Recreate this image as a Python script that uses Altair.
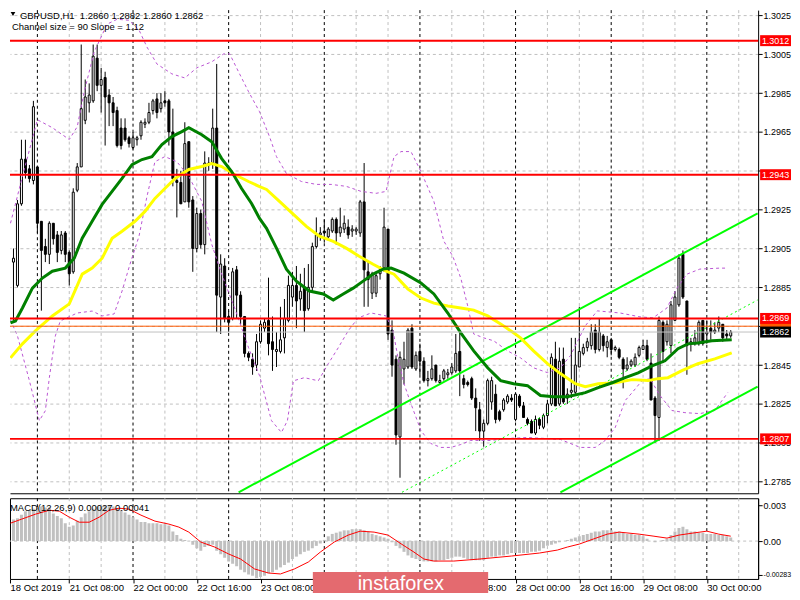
import json
import altair as alt
import pandas as pd

FONT = "Liberation Sans"
FS = 9.5

# ---------------- hourly candles, bar 0 = 18 Oct 2019 16:00 ----------------
OPEN = [1.2892, 1.2886, 1.2898, 1.2886, 1.2928, 1.2951, 1.2946, 1.2940, 1.2947, 1.2919,
        1.2906, 1.2902, 1.2918, 1.2912, 1.2904, 1.2913, 1.2903, 1.2893, 1.2935, 1.2947,
        1.2971, 1.2980, 1.2981, 1.3003, 1.2989, 1.2993, 1.2984, 1.2980, 1.2976, 1.2967,
        1.2967, 1.2962, 1.2957, 1.2961, 1.2963, 1.2969, 1.2970, 1.2976, 1.2982, 1.2977,
        1.2981, 1.2981, 1.2965, 1.2940, 1.2939, 1.2929, 1.2960, 1.2930, 1.2905, 1.2923,
        1.2907, 1.2948, 1.2949, 1.2967, 1.2880, 1.2896, 1.2870, 1.2869, 1.2894, 1.2881,
        1.2870, 1.2851, 1.2848, 1.2845, 1.2857, 1.2864, 1.2868, 1.2857, 1.2852, 1.2852,
        1.2859, 1.2868, 1.2880, 1.2886, 1.2879, 1.2885, 1.2874, 1.2885, 1.2906, 1.2912,
        1.2914, 1.2911, 1.2914, 1.2920, 1.2913, 1.2915, 1.2916, 1.2914, 1.2914, 1.2913,
        1.2929, 1.2893, 1.2882, 1.2882, 1.2892, 1.2895, 1.2915, 1.2863, 1.2848, 1.2808,
        1.2843, 1.2844, 1.2864, 1.2843, 1.2852, 1.2847, 1.2837, 1.2838, 1.2845, 1.2836,
        1.2838, 1.2840, 1.2841, 1.2842, 1.2852, 1.2838, 1.2836, 1.2838, 1.2828, 1.2822,
        1.2811, 1.2815, 1.2826, 1.2830, 1.2821, 1.2822, 1.2826, 1.2828, 1.2817, 1.2829,
        1.2824, 1.2817, 1.2816, 1.2810, 1.2817, 1.2813, 1.2819, 1.2825, 1.2848, 1.2825,
        1.2848, 1.2828, 1.2831, 1.2831, 1.2844, 1.2851, 1.2854, 1.2855, 1.2863, 1.2853,
        1.2860, 1.2854, 1.2858, 1.2853, 1.2853, 1.2848, 1.2843, 1.2845, 1.2845, 1.2850,
        1.2853, 1.2855, 1.2846, 1.2828, 1.2818, 1.2867, 1.2857, 1.2855, 1.2868, 1.2876,
        1.2902, 1.2878, 1.2856, 1.2856, 1.2856, 1.2868, 1.2861, 1.2864, 1.2862, 1.2864,
        1.2866, 1.2861, 1.2860]
HIGH = [1.2895, 1.2901, 1.2905, 1.2930, 1.2961, 1.2961, 1.2948, 1.2981, 1.2947, 1.2919,
        1.2910, 1.2919, 1.2918, 1.2914, 1.2914, 1.2914, 1.2904, 1.2936, 1.2949, 1.3010,
        1.2992, 1.2990, 1.3010, 1.3010, 1.2998, 1.2996, 1.2987, 1.2983, 1.2978, 1.2972,
        1.2972, 1.2963, 1.2965, 1.2963, 1.2971, 1.2972, 1.2980, 1.2982, 1.2985, 1.2985,
        1.2986, 1.2982, 1.2977, 1.2946, 1.2945, 1.2970, 1.2960, 1.2932, 1.2926, 1.2925,
        1.2955, 1.2952, 1.2977, 1.3000, 1.2902, 1.2900, 1.2873, 1.2895, 1.2896, 1.2883,
        1.2870, 1.2852, 1.2851, 1.2861, 1.2868, 1.2869, 1.2890, 1.2870, 1.2862, 1.2875,
        1.2879, 1.2891, 1.2893, 1.2896, 1.2892, 1.2895, 1.2897, 1.2908, 1.2921, 1.2916,
        1.2920, 1.2916, 1.2921, 1.2921, 1.2926, 1.2922, 1.2920, 1.2917, 1.2916, 1.2930,
        1.2949, 1.2898, 1.2893, 1.2893, 1.2896, 1.2926, 1.2915, 1.2868, 1.2850, 1.2852,
        1.2857, 1.2864, 1.2866, 1.2852, 1.2856, 1.2849, 1.2842, 1.2850, 1.2845, 1.2840,
        1.2843, 1.2843, 1.2846, 1.2861, 1.2862, 1.2840, 1.2837, 1.2839, 1.2833, 1.2826,
        1.2817, 1.2838, 1.2839, 1.2835, 1.2822, 1.2828, 1.2830, 1.2830, 1.2831, 1.2830,
        1.2826, 1.2818, 1.2817, 1.2819, 1.2818, 1.2820, 1.2827, 1.2851, 1.2857, 1.2854,
        1.2854, 1.2833, 1.2859, 1.2859, 1.2875, 1.2856, 1.2859, 1.2866, 1.2866, 1.2869,
        1.2861, 1.2860, 1.2859, 1.2855, 1.2854, 1.2849, 1.2849, 1.2848, 1.2851, 1.2855,
        1.2858, 1.2858, 1.2851, 1.2829, 1.2870, 1.2868, 1.2868, 1.2878, 1.2883, 1.2902,
        1.2904, 1.2878, 1.2859, 1.2863, 1.2868, 1.2868, 1.2868, 1.2868, 1.2867, 1.2870,
        1.2866, 1.2863, 1.2863]
LOW = [1.2859, 1.2884, 1.2868, 1.2885, 1.2927, 1.2941, 1.2939, 1.2938, 1.2913, 1.2873,
       1.2898, 1.2897, 1.2907, 1.2898, 1.2902, 1.2898, 1.2886, 1.2892, 1.2934, 1.2947,
       1.2969, 1.2975, 1.2980, 1.2986, 1.2975, 1.2958, 1.2968, 1.2968, 1.2957, 1.2956,
       1.2960, 1.2957, 1.2956, 1.2958, 1.2961, 1.2967, 1.2969, 1.2974, 1.2972, 1.2975,
       1.2978, 1.2958, 1.2937, 1.2921, 1.2928, 1.2929, 1.2926, 1.2893, 1.2903, 1.2905,
       1.2902, 1.2945, 1.2946, 1.2862, 1.2861, 1.2867, 1.2862, 1.2868, 1.2869, 1.2866,
       1.2849, 1.2847, 1.2840, 1.2842, 1.2856, 1.2862, 1.2850, 1.2842, 1.2844, 1.2851,
       1.2851, 1.2867, 1.2875, 1.2864, 1.2873, 1.2862, 1.2873, 1.2883, 1.2905, 1.2909,
       1.2908, 1.2909, 1.2913, 1.2907, 1.2911, 1.2913, 1.2910, 1.2911, 1.2912, 1.2911,
       1.2875, 1.2875, 1.2879, 1.2880, 1.2889, 1.2893, 1.2858, 1.2839, 1.2804, 1.2787,
       1.2835, 1.2843, 1.2843, 1.2842, 1.2840, 1.2836, 1.2834, 1.2837, 1.2836, 1.2835,
       1.2837, 1.2838, 1.2840, 1.2841, 1.2829, 1.2833, 1.2834, 1.2827, 1.2811, 1.2806,
       1.2803, 1.2814, 1.2822, 1.2815, 1.2816, 1.2821, 1.2825, 1.2826, 1.2816, 1.2823,
       1.2818, 1.2814, 1.2810, 1.2809, 1.2812, 1.2812, 1.2815, 1.2824, 1.2824, 1.2824,
       1.2825, 1.2825, 1.2828, 1.2830, 1.2844, 1.2850, 1.2852, 1.2853, 1.2851, 1.2852,
       1.2852, 1.2849, 1.2850, 1.2852, 1.2848, 1.2833, 1.2842, 1.2844, 1.2844, 1.2849,
       1.2853, 1.2847, 1.2827, 1.2805, 1.2806, 1.2846, 1.2855, 1.2851, 1.2868, 1.2875,
       1.2879, 1.2840, 1.2852, 1.2855, 1.2855, 1.2855, 1.2856, 1.2858, 1.2861, 1.2862,
       1.2857, 1.2858, 1.2859]
CLOSE = [1.2864, 1.2898, 1.2900, 1.2928, 1.2951, 1.2944, 1.2941, 1.2978, 1.2918, 1.2904,
         1.2902, 1.2918, 1.2910, 1.2903, 1.2912, 1.2902, 1.2892, 1.2934, 1.2947, 1.2977,
         1.2983, 1.2984, 1.3004, 1.2989, 1.2992, 1.2983, 1.2980, 1.2975, 1.2958, 1.2958,
         1.2961, 1.2959, 1.2962, 1.2962, 1.2970, 1.2970, 1.2975, 1.2981, 1.2975, 1.2980,
         1.2980, 1.2965, 1.2941, 1.2939, 1.2928, 1.2959, 1.2929, 1.2905, 1.2923, 1.2907,
         1.2949, 1.2949, 1.2967, 1.2881, 1.2897, 1.2869, 1.2867, 1.2893, 1.2881, 1.2870,
         1.2851, 1.2849, 1.2844, 1.2857, 1.2866, 1.2867, 1.2856, 1.2853, 1.2853, 1.2858,
         1.2869, 1.2886, 1.2886, 1.2878, 1.2883, 1.2873, 1.2885, 1.2906, 1.2912, 1.2913,
         1.2913, 1.2915, 1.2920, 1.2913, 1.2916, 1.2918, 1.2912, 1.2915, 1.2915, 1.2929,
         1.2894, 1.2889, 1.2892, 1.2891, 1.2894, 1.2916, 1.2861, 1.2845, 1.2809, 1.2849,
         1.2848, 1.2863, 1.2844, 1.2850, 1.2847, 1.2837, 1.2838, 1.2843, 1.2837, 1.2837,
         1.2842, 1.2841, 1.2844, 1.2851, 1.2842, 1.2835, 1.2835, 1.2828, 1.2823, 1.2811,
         1.2815, 1.2837, 1.2837, 1.2817, 1.2817, 1.2827, 1.2829, 1.2827, 1.2830, 1.2824,
         1.2818, 1.2815, 1.2810, 1.2817, 1.2814, 1.2819, 1.2825, 1.2849, 1.2824, 1.2847,
         1.2826, 1.2830, 1.2832, 1.2845, 1.2852, 1.2854, 1.2857, 1.2862, 1.2853, 1.2862,
         1.2855, 1.2857, 1.2853, 1.2854, 1.2849, 1.2843, 1.2845, 1.2847, 1.2849, 1.2854,
         1.2855, 1.2848, 1.2827, 1.2819, 1.2868, 1.2852, 1.2866, 1.2876, 1.2880, 1.2900,
         1.2880, 1.2855, 1.2857, 1.2859, 1.2867, 1.2856, 1.2862, 1.2862, 1.2863, 1.2867,
         1.2859, 1.2860, 1.2862]

# ---------------- indicators (bar index, value) ----------------
GREEN_MA_BARS = [1.25, 2.5, 4.25, 6.75, 9.25, 11.75, 15, 17.25, 19.25, 21.75, 24.25, 26.75, 29.25,
                 31.75, 34.25, 36.75, 39.25, 41.75, 44.25, 46, 49.25, 51.75, 54.25, 56.75, 59.25,
                 61.75, 63.75, 65.5, 68, 70.5, 73, 76.25, 79.75, 82.25, 84.75, 87.25, 89.75,
                 92.25, 94.75, 96.75, 100, 104.25, 107.5, 111, 114.25, 117.5, 121, 124.25, 127.5,
                 131, 134.25, 137.5, 141, 145.5, 148.75, 152.25, 155.5, 158.75, 162.25, 165.5,
                 168.75, 171.25, 173.75, 177.25, 182.25]
GREEN_MA = [1.28667, 1.28677, 1.28744, 1.28846, 1.28898, 1.28933, 1.28949, 1.29000, 1.29103,
            1.29190, 1.29277, 1.29344, 1.29411, 1.29482, 1.29508, 1.29523, 1.29585, 1.29626,
            1.29652, 1.29672, 1.29636, 1.29600, 1.29513, 1.29446, 1.29359, 1.29282, 1.29205,
            1.29154, 1.29052, 1.28944, 1.28882, 1.28831, 1.28816, 1.28785, 1.28816, 1.28846,
            1.28882, 1.28918, 1.28944, 1.28949, 1.28923, 1.28872, 1.28816, 1.28718, 1.28616,
            1.28523, 1.28436, 1.28370, 1.28354, 1.28344, 1.28293, 1.28287, 1.28287, 1.28308,
            1.28334, 1.28359, 1.28385, 1.28410, 1.28446, 1.28472, 1.28534, 1.28559, 1.28564,
            1.28575, 1.28580]
YELLOW_MA_BARS = [1.25, 4.25, 7.5, 11.75, 16, 19.25, 21.75, 24.25, 26.75, 29.25, 32.5, 35, 37.5, 40,
                  42.5, 46, 49.25, 51.75, 54.25, 57.5, 61, 63.75, 65.5, 68.75, 72.25, 75.5, 78.75,
                  82.25, 85.5, 88.75, 92.25, 95.5, 97.5, 101, 104.25, 107.5, 111, 114.25, 117.5,
                  121, 124.25, 127.5, 129.25, 132.5, 136, 139.25, 143, 145.5, 148.75, 153, 157.25,
                  161.25, 163.75, 166.25, 169.75, 173.75, 178, 182.25]
YELLOW_MA = [1.28487, 1.28559, 1.28626, 1.28703, 1.28765, 1.28918, 1.28949, 1.29000, 1.29103,
             1.29139, 1.29190, 1.29241, 1.29308, 1.29359, 1.29410, 1.29457, 1.29472, 1.29487,
             1.29472, 1.29431, 1.29395, 1.29369, 1.29354, 1.29293, 1.29226, 1.29164, 1.29113,
             1.29087, 1.29052, 1.29010, 1.28969, 1.28934, 1.28918, 1.28841, 1.28795, 1.28769,
             1.28754, 1.28744, 1.28733, 1.28703, 1.28662, 1.28616, 1.28590, 1.28523, 1.28457,
             1.28406, 1.28354, 1.28339, 1.28354, 1.28359, 1.28375, 1.28370, 1.28380, 1.28385,
             1.28421, 1.28457, 1.28482, 1.28513]
BAND_UP_BARS = [1.25, 4.25, 8, 11.75, 16, 18, 19.75, 22.25, 25.5, 28, 31, 33.5, 35.5, 38, 41.75, 45,
                48, 51.75, 54.75, 56.25, 58.25, 61, 63.75, 66.25, 68, 70.5, 74.25, 78, 81.75, 85.5,
                89.25, 93, 95.5, 97.5, 99.25, 101.75, 104.25, 107.5, 110, 112.25, 114.25, 116,
                117.5, 120, 122.5, 126, 129.25, 132.5, 136, 139.25, 141.75, 145.5, 148.5, 154.25,
                159.25, 162.5, 166, 168.5, 171, 174.25, 179.25, 181.25]
BAND_UP = [1.29180, 1.29421, 1.29713, 1.29672, 1.29611, 1.29677, 1.29857, 1.30062, 1.30205,
           1.30230, 1.30225, 1.30175, 1.30087, 1.30000, 1.29949, 1.29928, 1.29980, 1.30011,
           1.30052, 1.30052, 1.29969, 1.29857, 1.29754, 1.29626, 1.29523, 1.29436, 1.29395,
           1.29380, 1.29380, 1.29370, 1.29344, 1.29334, 1.29344, 1.29523, 1.29549, 1.29549,
           1.29446, 1.29293, 1.29088, 1.29010, 1.28898, 1.28754, 1.28610, 1.28590, 1.28575,
           1.28523, 1.28487, 1.28436, 1.28411, 1.28436, 1.28498, 1.28652, 1.28729, 1.28718,
           1.28698, 1.28693, 1.28744, 1.28847, 1.28918, 1.28944, 1.28949, 1.28949]
BAND_LO_BARS = [1.25, 3, 6, 8.5, 10, 11, 12.5, 13.75, 18, 21.75, 24.25, 27.25, 29.25, 31.25, 33.5,
                35.5, 37.5, 40, 43, 46, 49.25, 51.75, 54.25, 57.5, 61, 63.75, 66.75, 69.25, 70.75,
                72.25, 75, 78.5, 81, 83.5, 86, 88.5, 91.75, 95.5, 97.25, 98.5, 100, 101.75,
                104.25, 106.75, 109.25, 111.75, 114.25, 116.75, 121.75, 126, 131, 135.5, 139.25,
                144.25, 148, 150.5, 153, 155.5, 157.25, 159.75, 161.75, 164.25, 167.25, 170.5,
                174.25, 178, 181.25]
BAND_LO = [1.28682, 1.28600, 1.28369, 1.28164, 1.28215, 1.28385, 1.28600, 1.28677, 1.28718,
           1.28728, 1.28703, 1.28713, 1.28831, 1.28970, 1.29113, 1.29318, 1.29497, 1.29523,
           1.29497, 1.29421, 1.29293, 1.29072, 1.28918, 1.28744, 1.28539, 1.28395, 1.28164,
           1.28103, 1.28164, 1.28369, 1.28385, 1.28369, 1.28457, 1.28539, 1.28626, 1.28693,
           1.28718, 1.28703, 1.28626, 1.28487, 1.28354, 1.28251, 1.28113, 1.28046, 1.28026,
           1.28026, 1.28041, 1.28062, 1.28062, 1.28072, 1.28077, 1.28072, 1.28067, 1.28026,
           1.28026, 1.28062, 1.28128, 1.28267, 1.28308, 1.28370, 1.28380, 1.28293, 1.28216,
           1.28205, 1.28200, 1.28216, 1.28308]

CHANNEL_UPPER_BARS, CHANNEL_UPPER = [58.5, 188.75], [1.27795, 1.29231]
CHANNEL_MID_BARS, CHANNEL_MID = [99.5, 188.75], [1.27795, 1.28785]
CHANNEL_LOWER_BARS, CHANNEL_LOWER = [139.25, 188.75], [1.27795, 1.28339]

LEVELS = [1.3012, 1.2943, 1.2869, 1.2807]
ASK = 1.2865
BID = 1.2862

# MACD histogram in units of 0.0001, one per bar
MACD_HIST_E4 = [16, 17, 18, 19, 22, 25, 26, 27, 28, 29, 28, 28, 23, 21, 19, 15, 12, 13, 17, 20,
                23, 25, 27, 29, 29, 30, 30, 29, 27, 26, 24, 22, 20, 18, 16, 16, 15, 15, 15, 14,
                14, 13, 8, 5, 2, 1, 0, -3, -6, -8, -5, -4, -3, -8, -11, -14, -17, -19, -21, -24,
                -26, -28, -29, -31, -30, -29, -27, -26, -24, -22, -20, -18, -15, -13, -11, -9, -8,
                -6, -4, -2, 1, 4, 6, 7, 8, 9, 9, 10, 10, 10, 9, 8, 6, 5, 4, 3, 2, -1, -4, -6,
                -9, -12, -14, -15, -16, -17, -17, -17, -17, -16, -16, -15, -14, -13, -13, -14,
                -15, -16, -16, -16, -16, -14, -13, -13, -12, -12, -11, -10, -10, -10, -10, -10,
                -9, -9, -8, -6, -4, -3, -2, -1, 0, 1, 2, 3, 4, 5, 6, 7, 8, 8, 9, 9, 9, 8, 8, 7,
                6, 6, 5, 5, 4, 2, 0, -1, 0, 1, 2, 5, 8, 11, 12, 10, 8, 8, 7, 7, 6, 6, 6, 5, 5, 4, 3]
SIGNAL_BARS = [1.25, 4, 7.5, 11, 13.5, 16, 18.5, 21, 23.5, 26, 28.5, 31, 34, 37.5, 41, 43.5, 46, 49,
               52.5, 56, 59, 62.5, 66, 69, 72.5, 76, 79, 82.5, 86, 89, 92.5, 96, 99, 102.5, 105,
               107.5, 112.5, 119, 127, 134, 138.5, 141, 144, 147.5, 151, 154, 159, 162.5, 166,
               169, 172.5, 176, 179, 182]
SIGNAL_E4 = [15.0, 18.3, 22.5, 25.8, 25, 20, 15.8, 15.8, 20, 25.8, 27.5, 26.7, 21.7, 16.7, 14.2,
             11.7, 7.5, -0.8, -5, -10.8, -15, -23.3, -26.7, -27.5, -23.3, -17.5, -9.2, -0.8, 5,
             8.3, 7.5, 5, -1.7, -9.2, -15, -16.7, -16.7, -15, -12.5, -10, -7.5, -5, -2.5, 1.7,
             5.8, 7.5, 5.8, 4.2, 2.5, 5, 6.7, 8.3, 5.8, 4.1]

TIME_LABELS = ["18 Oct 2019", "21 Oct 08:00", "22 Oct 00:00", "22 Oct 16:00", "23 Oct 08:00",
               "24 Oct 00:00", "24 Oct 16:00", "25 Oct 08:00", "28 Oct 00:00", "28 Oct 16:00",
               "29 Oct 08:00", "30 Oct 00:00"]
TIME_LABEL_BARS = [0, 16, 32, 48, 64, 80, 96, 112, 128, 144, 160, 176]
LABELS_UNDER_LOGO = ["24 Oct 00:00", "24 Oct 16:00"]
DAY_START_BARS = [8, 32, 56, 80, 104, 128, 152, 176]
GRID_BARS = [16, 24, 40, 48, 64, 72, 88, 96, 112, 120, 136, 144, 160, 168, 184]
PRICE_TICKS = [1.2785, 1.2805, 1.2825, 1.2845, 1.2865, 1.2885, 1.2905, 1.2925, 1.2945,
               1.2965, 1.2985, 1.3005, 1.3025]
PRICE_TICKS_UNDER_BOXES = [1.2945, 1.2865]
MACD_TICKS = [0.003, 0.0, -0.00283]
MACD_TICK_LABELS = ["0.003", "0.00", "-0.00283"]

TITLE = "GBPUSD,H1\u00a0 1.2860 1.2882 1.2860 1.2862"
SUBTITLE = "Channel size = 90 Slope = 1.12"
MACD_TITLE = "MACD(12,26,9) 0.00027 0.00041"
WATERMARK = "instaforex"

# ---------------- scales / axes ----------------
W, H_MAIN, H_MACD = 751, 485, 81
X0 = 1.125
XS = alt.Scale(domain=[X0, X0 + W / 4], nice=False, zero=False)
YS = alt.Scale(domain=[1.2779, 1.302772], nice=False, zero=False)
YM = alt.Scale(domain=[-0.0031667, 0.0035833], nice=False, zero=False)
AXFS = 9

AX_MAIN = alt.Axis(labels=False, ticks=False, grid=False, domain=True, domainColor="black",
                   title=None)
hide_price = " || ".join("abs(datum.value - %r) < 1e-6" % v for v in PRICE_TICKS_UNDER_BOXES)
AY_MAIN = alt.Axis(orient="right", values=PRICE_TICKS,
                   labelExpr="(%s) ? '' : format(datum.value, '.4f')" % hide_price, grid=True,
                   gridDash=[3, 3], gridColor="#C0C0C0", tickColor="black", tickSize=4,
                   domainColor="black", labelColor="black", labelFont=FONT, labelFontSize=AXFS,
                   labelPadding=1, title=None)
shown_time = ["" if t in LABELS_UNDER_LOGO else t for t in TIME_LABELS]
x_vals = [X0 if b < X0 else b for b in TIME_LABEL_BARS]
AX_MACD = alt.Axis(values=x_vals, labelExpr="%s[round(datum.value / 16)]" % json.dumps(shown_time),
                   labelAlign="left", labelFlush=False, labelOverlap=False, labelBound=False,
                   grid=False, domain=False, tickColor="black", tickSize=4, labelColor="black",
                   labelFont=FONT, labelFontSize=FS, labelPadding=0, title=None)
macd_expr = " : ".join("abs(datum.value - %r) < 1e-6 ? %s" % (v, json.dumps(l))
                       for v, l in zip(MACD_TICKS, MACD_TICK_LABELS)) + " : ''"
AY_MACD = alt.Axis(orient="right", values=MACD_TICKS, labelExpr=macd_expr, grid=False,
                   tickColor="black", tickSize=4, domainColor="black", labelColor="black",
                   labelFont=FONT,
                   labelFontSize={"condition": {"test": "datum.value < 0", "value": 7},
                                  "value": AXFS},
                   labelPadding=1, title=None)


def xm(f="bar"):
    return alt.X(f"{f}:Q", scale=XS, axis=AX_MAIN)


def ym(f="price"):
    return alt.Y(f"{f}:Q", scale=YS, axis=AY_MAIN)


def xb(f="bar"):
    return alt.X(f"{f}:Q", scale=XS, axis=AX_MACD)


def yb(f="val"):
    return alt.Y(f"{f}:Q", scale=YM, axis=AY_MACD)


candles = pd.DataFrame({"bar": range(len(OPEN)), "open": OPEN, "high": HIGH,
                        "low": LOW, "close": CLOSE})
VISIBLE = "datum.bar >= 2"


def line_df(bars, vals, name):
    return pd.DataFrame({"bar": bars, "price": vals, "series": name})


grid_df = pd.DataFrame({"bar": GRID_BARS})
day_df = pd.DataFrame({"bar": DAY_START_BARS})

vgrid = alt.Chart(grid_df).mark_rule(color="#C0C0C0", strokeDash=[3, 3], strokeWidth=1).encode(x=xm())
vday = alt.Chart(day_df).mark_rule(color="black", strokeDash=[3, 3], strokeWidth=1).encode(x=xm())

wicks = alt.Chart(candles).transform_filter(VISIBLE).mark_rule(
    color="black", strokeWidth=1, clip=True).encode(x=xm(), y=ym("low"), y2=alt.Y2("high:Q"))
bodies = alt.Chart(candles).transform_filter(VISIBLE).transform_calculate(
    x1="datum.bar - 0.25", x2="datum.bar + 0.25"
).mark_rect(stroke="black", strokeWidth=1, clip=True).encode(
    x=xm("x1"), x2=alt.X2("x2:Q"), y=ym("open"), y2=alt.Y2("close:Q"),
    fill=alt.condition("datum.close >= datum.open", alt.value("white"), alt.value("black")))

bands_df = pd.concat([line_df(BAND_UP_BARS, BAND_UP, "up"), line_df(BAND_LO_BARS, BAND_LO, "lo")])
bands = alt.Chart(bands_df).mark_line(color="#BA55D3", strokeDash=[3, 3], strokeWidth=1,
                                      clip=True).encode(x=xm(), y=ym(), detail="series:N")

chan_df = pd.concat([line_df(CHANNEL_UPPER_BARS, CHANNEL_UPPER, "u"),
                     line_df(CHANNEL_LOWER_BARS, CHANNEL_LOWER, "l")])
chan = alt.Chart(chan_df).mark_line(color="#00FF00", strokeWidth=2, clip=True).encode(
    x=xm(), y=ym(), detail="series:N")
chan_mid = alt.Chart(line_df(CHANNEL_MID_BARS, CHANNEL_MID, "m")).mark_line(
    color="#00FF00", strokeWidth=1, strokeDash=[2, 3], clip=True).encode(x=xm(), y=ym())

ma_y = alt.Chart(line_df(YELLOW_MA_BARS, YELLOW_MA, "y")).mark_line(
    color="#FFFF00", strokeWidth=3, clip=True).encode(x=xm(), y=ym())
ma_g = alt.Chart(line_df(GREEN_MA_BARS, GREEN_MA, "g")).mark_line(
    color="#008000", strokeWidth=3, clip=True).encode(x=xm(), y=ym())

levels_df = pd.DataFrame({"price": LEVELS, "label": [f"{v:.4f}" for v in LEVELS]})
ask_df = pd.DataFrame({"price": [ASK], "label": [f"{ASK:.4f}"]})
bid_df = pd.DataFrame({"price": [BID], "label": [f"{BID:.4f}"]})

lev_rules = alt.Chart(levels_df).mark_rule(color="#FF0000", strokeWidth=2).encode(y=ym())
ask_rule = alt.Chart(ask_df).mark_rule(color="#FF5A00", strokeWidth=1).encode(y=ym())
bid_rule = alt.Chart(bid_df).mark_rule(color="#C0C0C0", strokeWidth=1).encode(y=ym())


def box(df, color):
    return alt.Chart(df).transform_calculate(
        lo="datum.price - 0.000282", hi="datum.price + 0.000282"
    ).mark_rect(color=color).encode(x=alt.value(W + 2), x2=alt.value(W + 33), y=ym("lo"),
                                    y2=alt.Y2("hi:Q"))


def box_text(df):
    return alt.Chart(df).mark_text(color="white", font=FONT, fontSize=AXFS, align="center",
                                   baseline="middle").encode(x=alt.value(W + 17.5), y=ym(),
                                                             text="label:N")


title_df = pd.DataFrame({"t": [TITLE]})
sub_df = pd.DataFrame({"t": [SUBTITLE]})
title_txt = alt.Chart(title_df).mark_text(align="left", baseline="alphabetic", font=FONT,
                                          fontSize=FS, color="black").encode(
    x=alt.value(10), y=alt.value(8.5), text="t:N")
sub_txt = alt.Chart(sub_df).mark_text(align="left", baseline="alphabetic", font=FONT,
                                      fontSize=FS, color="black").encode(
    x=alt.value(2), y=alt.value(19.5), text="t:N")
tri = alt.Chart(title_df).mark_point(shape="triangle-down", filled=True, size=22,
                                     color="black", opacity=1).encode(
    x=alt.value(3), y=alt.value(4))

main = alt.layer(
    vgrid, vday, wicks, bodies, bands, chan, chan_mid, ma_y, ma_g,
    lev_rules, ask_rule, bid_rule,
    box(ask_df, "#FF5A00"), box(levels_df, "#FF0000"), box(bid_df, "black"),
    box_text(levels_df), box_text(bid_df),
    title_txt, sub_txt, tri,
).properties(width=W, height=H_MAIN)

# ---------------- MACD panel ----------------
hist_df = pd.DataFrame({"bar": range(len(MACD_HIST_E4)), "e4": MACD_HIST_E4})
sig_df = pd.DataFrame({"bar": SIGNAL_BARS, "e4": SIGNAL_E4})

mgrid = alt.Chart(grid_df).mark_rule(color="#C0C0C0", strokeDash=[3, 3], strokeWidth=1).encode(x=xb())
mday = alt.Chart(day_df).mark_rule(color="black", strokeDash=[3, 3], strokeWidth=1).encode(x=xb())
zero_df = pd.DataFrame({"val": [0.0]})
mzero = alt.Chart(zero_df).mark_rule(color="#C0C0C0", strokeDash=[3, 3], strokeWidth=1).encode(y=yb())
hist = alt.Chart(hist_df).transform_filter(VISIBLE).transform_calculate(
    val="datum.e4 / 10000", zero="0", x1="datum.bar - 0.375", x2="datum.bar + 0.375"
).mark_rect(color="#C0C0C0", clip=True).encode(
    x=xb("x1"), x2=alt.X2("x2:Q"), y=yb(), y2=alt.Y2("zero:Q"))
sig = alt.Chart(sig_df).transform_calculate(val="datum.e4 / 10000").mark_line(
    color="#FF0000", strokeWidth=1, clip=True).encode(x=xb(), y=yb())
mtitle = alt.Chart(pd.DataFrame({"t": [MACD_TITLE]})).mark_text(
    align="left", baseline="alphabetic", font=FONT, fontSize=FS, color="black").encode(
    x=alt.value(0), y=alt.value(12.5), text="t:N")
wm_df = pd.DataFrame({"t": [WATERMARK]})
wm_box = alt.Chart(wm_df).mark_rect(color="#E46A6F").encode(
    x=alt.value(304), x2=alt.value(480), y=alt.value(74), y2=alt.value(95))
wm_txt = alt.Chart(wm_df).mark_text(align="left", baseline="alphabetic", font=FONT,
                                    fontSize=20, color="white").encode(
    x=alt.value(349), y=alt.value(92), text="t:N")

macd = alt.layer(mgrid, mday, mzero, hist, sig, mtitle, wm_box, wm_txt).properties(
    width=W, height=H_MACD, view=alt.ViewBackground(stroke="black", strokeWidth=1))

chart = alt.vconcat(main, macd, spacing=3).properties(padding=0).configure(
    font=FONT).configure_view(stroke="transparent")

chart.save("out.html", embed_options={"renderer": "svg", "actions": False})
